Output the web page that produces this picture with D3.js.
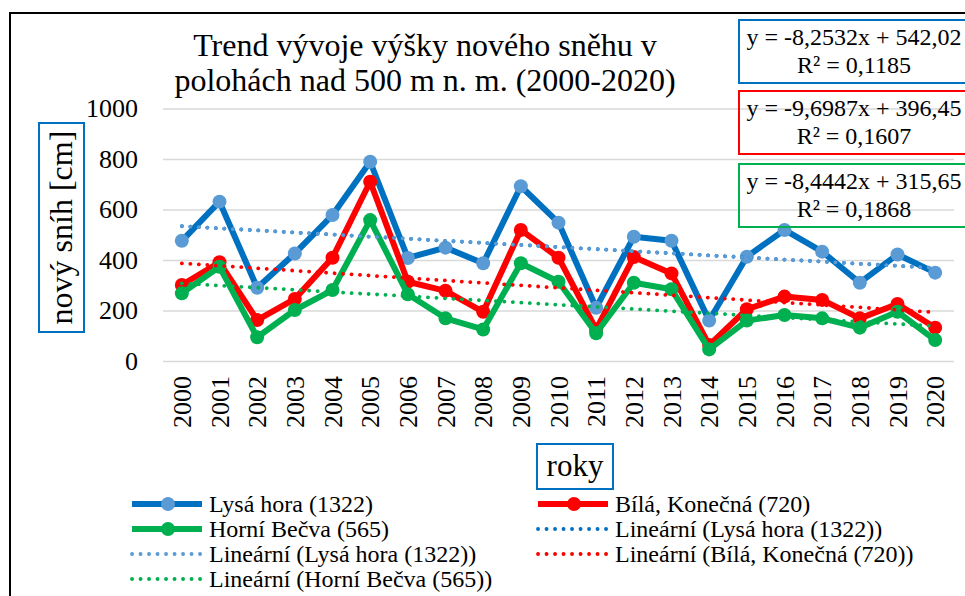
<!DOCTYPE html>
<meta charset="utf-8">
<html>
<head>
<script src="https://cdn.jsdelivr.net/npm/d3@7"></script>
<style>
  body { margin: 0; background: #fff; }
  text { font-family: "Liberation Serif", "Times New Roman", serif; fill: #000; }
</style>
</head>
<body>
<script>
// chart values
var years = d3.range(2000, 2021);
var lysaHora = [476, 631, 290, 426, 578, 789, 408, 449, 387, 692, 548, 211, 492, 476, 160, 413, 519, 433, 310, 422, 350];
var bila = [301, 391, 162, 246, 409, 710, 314, 278, 195, 519, 409, 125, 412, 347, 63, 205, 255, 242, 169, 226, 132];
var horniBecva = [268, 373, 94, 202, 281, 558, 264, 169, 125, 387, 314, 110, 310, 284, 46, 160, 182, 169, 132, 195, 83];
var yTicks = [0, 200, 400, 600, 800, 1000];

// trendline equations as printed on the chart
var slopes = [-8.2532, -9.6987, -8.4442];
var intercepts = [542.02, 396.45, 315.65];
var r2 = [0.1185, 0.1607, 0.1868];

var seriesNames = ["Lysá hora (1322)", "Bílá, Konečná (720)", "Horní Bečva (565)"];
var lineColors = ["#0070C0", "#FF0000", "#00B050"];
var markerColors = ["#5B9BD5", "#FF0000", "#00B050"];
var trendColors = ["#5B9BD5", "#FF0000", "#00B050"];
var values = [lysaHora, bila, horniBecva];

var W = 965, H = 596;
var svg = d3.select("body").append("svg").attr("width", W).attr("height", H);

// outer chart frame (runs off the right/bottom of the picture)
svg.append("rect").attr("x", 10).attr("y", 13).attr("width", 1000).attr("height", 1000)
    .attr("fill", "none").attr("stroke", "#000").attr("stroke-width", 2);

var x = d3.scaleBand().domain(years).range([163, 954]).padding(0);
var y = d3.scaleLinear().domain([0, 1000]).range([361, 108.5]);
var cx = function(yr){ return x(yr) + x.bandwidth() / 2; };

// gridlines + y labels
var yAxis = svg.append("g").attr("transform", "translate(163,0)")
    .call(d3.axisLeft(y).tickValues(yTicks).tickSize(-791).tickPadding(25).tickFormat(d3.format("d")));
yAxis.select(".domain").remove();
yAxis.selectAll("line").attr("stroke", "#d9d9d9").attr("stroke-width", 1.5);
yAxis.selectAll("text").attr("font-size", 26).attr("font-family", "Liberation Serif").attr("fill", "#000");

// x labels (rotated)
var xAxis = svg.append("g").attr("transform", "translate(0,361)")
    .call(d3.axisBottom(x).tickSize(0).tickFormat(d3.format("d")));
xAxis.select(".domain").remove();
xAxis.selectAll("text")
    .attr("font-size", 26).attr("font-family", "Liberation Serif").attr("fill", "#000")
    .attr("text-anchor", "end")
    .attr("transform", "rotate(-90)")
    .attr("x", -15).attr("y", 0).attr("dy", "0.35em");

// series lines and markers
var line = d3.line().x(function(d, i){ return cx(years[i]); }).y(function(d){ return y(d); });
values.forEach(function(vals, k){
    svg.append("path").datum(vals)
        .attr("d", line).attr("fill", "none")
        .attr("stroke", lineColors[k]).attr("stroke-width", 6)
        .attr("stroke-linejoin", "round");
    svg.selectAll(".m" + k).data(vals).enter().append("circle")
        .attr("cx", function(d, i){ return cx(years[i]); })
        .attr("cy", function(d){ return y(d); })
        .attr("r", 7).attr("fill", markerColors[k]);
});

// trendlines
var trendLine = d3.line().x(function(d){ return cx(years[d - 1]); });
var idx = d3.range(1, years.length + 1);
function drawTrend(k, color){
    svg.append("path").datum(idx)
        .attr("d", trendLine.y(function(d){ return y(slopes[k] * d + intercepts[k]); }))
        .attr("fill", "none").attr("stroke", color).attr("stroke-width", 3.8)
        .attr("stroke-linecap", "round").attr("stroke-dasharray", "0.1,8.4");
}
drawTrend(0, "#0070C0");
drawTrend(0, trendColors[0]);
drawTrend(1, trendColors[1]);
drawTrend(2, trendColors[2]);

// equation boxes
var comma = function(v){ return String(v).replace(".", ","); };
var eqBoxColors = ["#0070C0", "#FF0000", "#00B050"];
[0, 1, 2].forEach(function(k){
    var top = [20, 91, 164][k];
    svg.append("rect").attr("x", 739).attr("y", top).attr("width", 240).attr("height", 63)
        .attr("fill", "none").attr("stroke", eqBoxColors[k]).attr("stroke-width", 2);
    svg.append("text").attr("x", 854).attr("y", top + 25).attr("text-anchor", "middle")
        .attr("font-size", 24)
        .text("y = " + comma(slopes[k]) + "x + " + comma(intercepts[k]));
    svg.append("text").attr("x", 854).attr("y", top + 53).attr("text-anchor", "middle")
        .attr("font-size", 24)
        .text("R² = " + comma(r2[k]));
});

// title
var title = svg.append("text").attr("text-anchor", "middle").attr("font-size", 32);
title.append("tspan").attr("x", 425).attr("y", 56).text("Trend vývoje výšky nového sněhu v");
title.append("tspan").attr("x", 425).attr("y", 91).text("polohách nad 500 m n. m. (2000-2020)");

// y axis title
svg.append("rect").attr("x", 39).attr("y", 123).attr("width", 45).attr("height", 209)
    .attr("fill", "none").attr("stroke", "#0070C0").attr("stroke-width", 2);
svg.append("text").attr("transform", "translate(72,227.5) rotate(-90)")
    .attr("text-anchor", "middle").attr("font-size", 32).text("nový sníh [cm]");

// x axis title
svg.append("rect").attr("x", 537).attr("y", 444).attr("width", 76).attr("height", 45)
    .attr("fill", "none").attr("stroke", "#0070C0").attr("stroke-width", 2);
svg.append("text").attr("x", 575).attr("y", 476).attr("text-anchor", "middle")
    .attr("font-size", 31).text("roky");

// legend
var legendItems = [
    {label: seriesNames[0], col: 0, row: 0, color: lineColors[0], marker: markerColors[0], dotted: false},
    {label: seriesNames[1], col: 1, row: 0, color: lineColors[1], marker: markerColors[1], dotted: false},
    {label: seriesNames[2], col: 0, row: 1, color: lineColors[2], marker: markerColors[2], dotted: false},
    {label: "Lineární (" + seriesNames[0] + ")", col: 1, row: 1, color: "#0070C0", dotted: true},
    {label: "Lineární (" + seriesNames[0] + ")", col: 0, row: 2, color: trendColors[0], dotted: true},
    {label: "Lineární (" + seriesNames[1] + ")", col: 1, row: 2, color: trendColors[1], dotted: true},
    {label: "Lineární (" + seriesNames[2] + ")", col: 0, row: 3, color: trendColors[2], dotted: true}
];
var colX = [132, 538];
legendItems.forEach(function(d){
    var x0 = colX[d.col], yy = 504 + d.row * 25;
    var g = svg.append("g");
    g.append("line").attr("x1", x0).attr("x2", x0 + 70).attr("y1", yy).attr("y2", yy)
        .attr("stroke", d.color)
        .attr("stroke-width", d.dotted ? 3.8 : 6)
        .attr("stroke-linecap", d.dotted ? "round" : "butt")
        .attr("stroke-dasharray", d.dotted ? "0.1,8.4" : null);
    if (!d.dotted) {
        g.append("circle").attr("cx", x0 + 36).attr("cy", yy).attr("r", 7).attr("fill", d.marker);
    }
    g.append("text").attr("x", x0 + 77).attr("y", yy + 8).attr("font-size", 24).text(d.label);
});
</script>
</body>
</html>
